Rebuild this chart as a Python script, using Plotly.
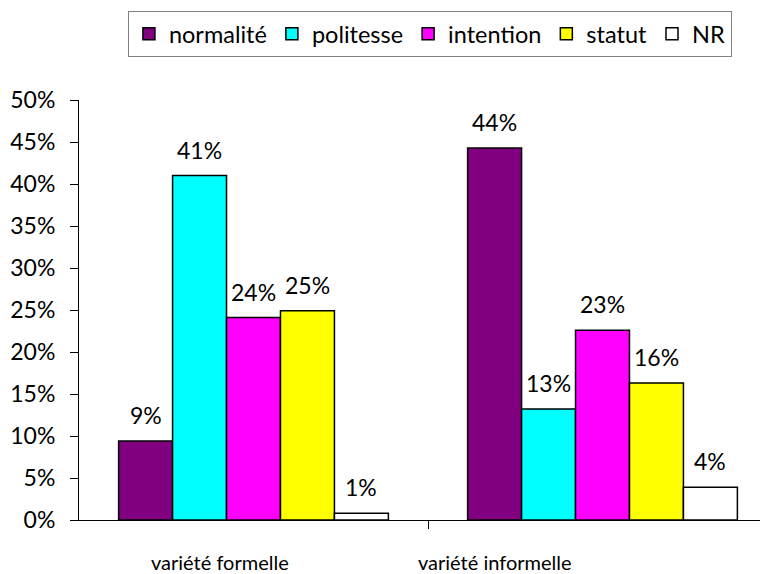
import plotly.graph_objects as go

categories = ["variété formelle", "variété informelle"]
series = ["normalité", "politesse", "intention", "statut", "NR"]
normalite = [9.4, 44.3]
politesse = [41.0, 13.2]
intention = [24.1, 22.6]
statut = [24.9, 16.3]
nr = [0.8, 3.9]
y_ticks = [0, 5, 10, 15, 20, 25, 30, 35, 40, 45, 50]
y_tick_labels = [f"{t}%" for t in y_ticks]

values = [normalite, politesse, intention, statut, nr]
colors = ["#800080", "#00FFFF", "#FF00FF", "#FFFF00", "#FFFFFF"]

FONT = "Lato"
fig = go.Figure()
xs = list(range(len(categories)))
for name, vals, col in zip(series, values, colors):
    fig.add_trace(go.Bar(
        x=xs, y=vals, name=name,
        marker=dict(color=col, line=dict(color="black", width=1.5)),
    ))

group_w = 0.773
bar_w = group_w / len(series)
ann = []
for j, vals in enumerate(values):
    for i, v in enumerate(vals):
        ann.append(dict(
            x=i + (j - (len(series) - 1) / 2) * bar_w, y=v,
            xref="x", yref="y", text=f"{round(v)}%", showarrow=False,
            yanchor="middle", yshift=26,
            font=dict(family=FONT, size=23, color="black"),
        ))
label_offsets = [-0.096, -0.308]
for i, c in enumerate(categories):
    ann.append(dict(
        x=i + label_offsets[i], y=0, xref="x", yref="y", text=c,
        showarrow=False, yanchor="middle", yshift=-42,
        font=dict(family=FONT, size=20, color="black"),
    ))

fig.update_layout(
    width=760, height=566,
    margin=dict(l=71, r=0, t=92, b=54),
    plot_bgcolor="white", paper_bgcolor="white",
    barmode="group", bargap=1 - group_w, bargroupgap=0,
    font=dict(family=FONT, size=23, color="black"),
    showlegend=True,
    legend=dict(
        orientation="h", x=0.071, y=1.212, xanchor="left", yanchor="top",
        bordercolor="#808080", borderwidth=1,
        font=dict(family=FONT, size=23.5, color="black"),
        itemwidth=30, tracegroupgap=0,
    ),
    annotations=ann,
    xaxis=dict(
        range=[-0.5, -0.5 + 689 / 349],
        tickvals=[0.5], ticktext=[""], ticks="outside", ticklen=8,
        tickcolor="black", showgrid=False, zeroline=False,
        showline=True, linecolor="black", linewidth=1,
    ),
    yaxis=dict(
        range=[0, 50], tickvals=y_ticks, ticktext=y_tick_labels,
        ticks="outside", ticklen=8, tickcolor="black",
        showgrid=False, zeroline=False, showline=True,
        linecolor="black", linewidth=1, ticklabelstandoff=10,
        tickfont=dict(family=FONT, size=23, color="black"),
    ),
)
fig.write_html("out.html")
